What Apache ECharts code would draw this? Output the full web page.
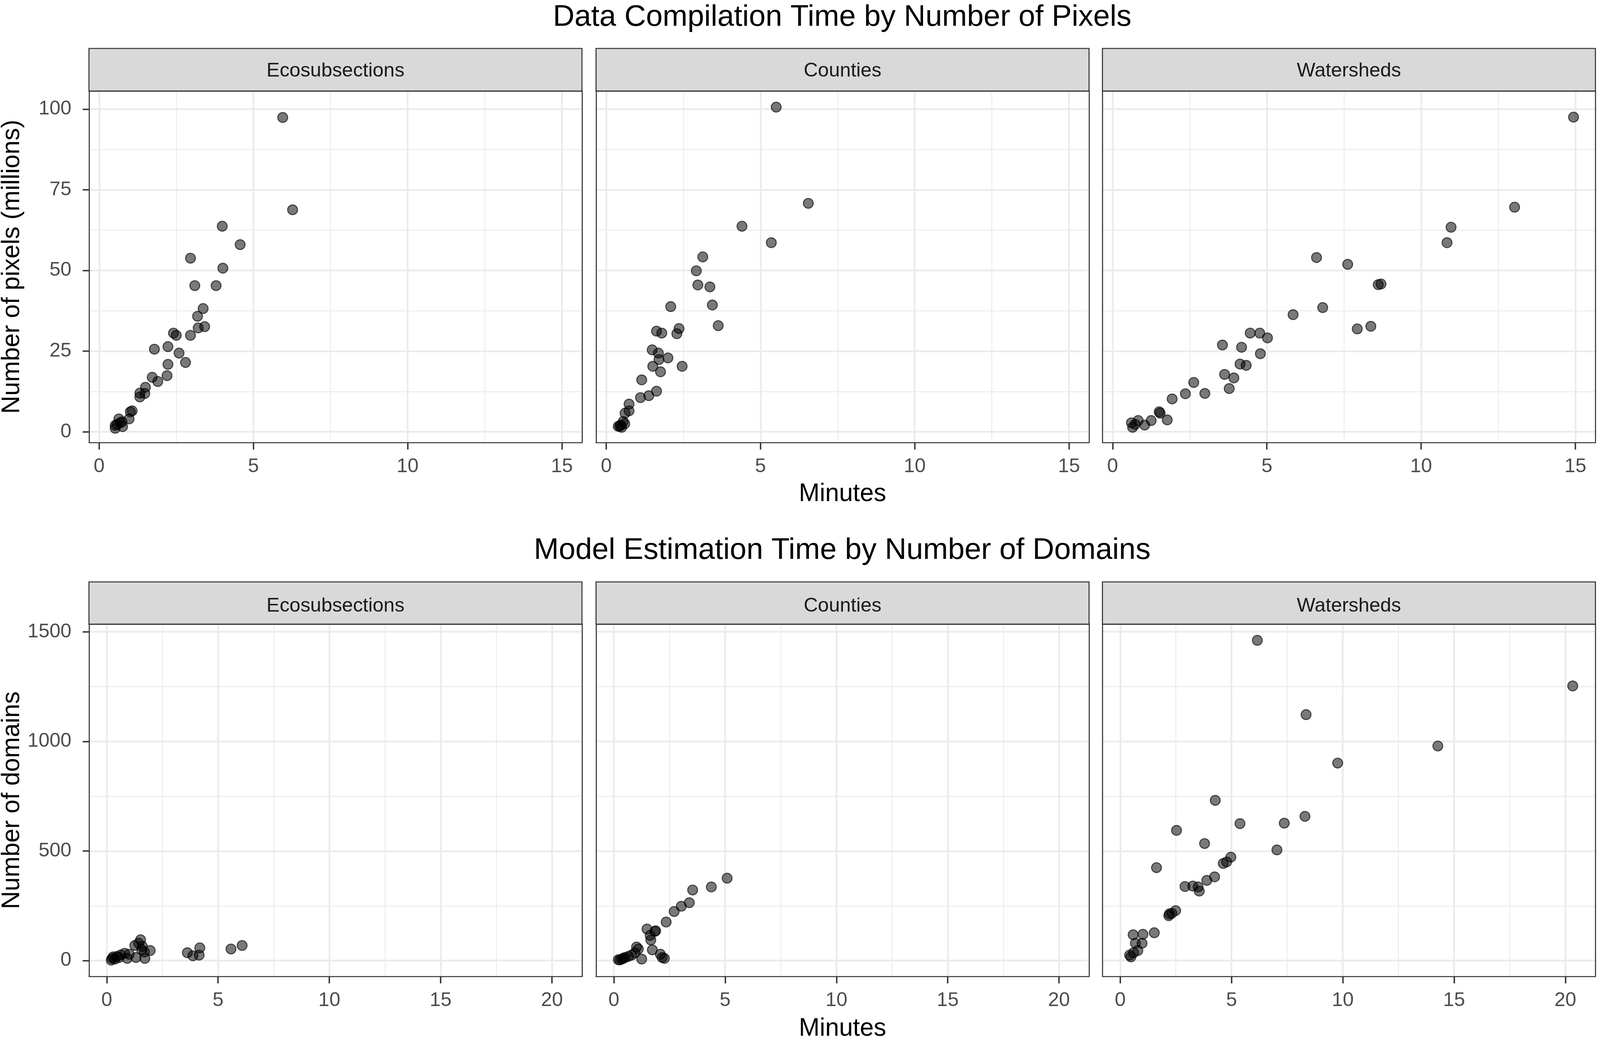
<!DOCTYPE html>
<html>
<head>
<meta charset="utf-8">
<title>Time by Number of Pixels / Domains</title>
<script src="https://cdn.jsdelivr.net/npm/echarts@6/dist/echarts.min.js"></script>
<style>
	html, body { margin: 0; padding: 0; overflow: hidden; background: #ffffff; }
	#main { width: 100vw; height: 100vh; }
</style>
</head>
<body>
<div id="main"></div>
<script>
//面板名称
var facetNames = ['Ecosubsections', 'Counties', 'Watersheds'];

//上排：数据编译时间 (分钟) / 像素数 (百万)
var pixEcoMin = [5.95, 6.27, 3.99, 4.57, 2.96, 4.01, 3.10, 3.79, 3.37, 3.19, 3.21, 3.42, 2.96, 2.41, 2.50, 1.79, 2.23, 2.59, 2.80, 2.23, 2.20, 1.72, 1.90, 1.50, 1.48, 1.32, 1.32, 1.07, 1.01, 0.97, 0.64, 0.74, 0.76, 0.52, 0.52, 0.58, 0.68];
var pixEcoVal = [97.4, 68.8, 63.7, 58.0, 53.8, 50.7, 45.3, 45.3, 38.2, 35.8, 32.2, 32.6, 29.9, 30.6, 29.9, 25.6, 26.4, 24.4, 21.5, 20.9, 17.4, 16.9, 15.6, 13.8, 11.9, 12.0, 10.8, 6.5, 6.2, 4.0, 4.0, 3.1, 1.6, 2.0, 1.1, 2.3, 2.8];
var pixCntMin = [5.51, 6.55, 4.40, 5.35, 3.13, 2.92, 2.97, 3.36, 3.44, 2.09, 3.63, 2.36, 2.29, 1.63, 1.80, 1.49, 1.69, 1.71, 2.00, 1.51, 2.46, 1.76, 1.15, 1.63, 1.38, 1.11, 0.74, 0.74, 0.61, 0.60, 0.44, 0.50, 0.39, 0.55, 0.47];
var pixCntVal = [100.6, 70.8, 63.7, 58.6, 54.2, 49.9, 45.5, 44.9, 39.3, 38.8, 32.9, 32.0, 30.4, 31.2, 30.6, 25.4, 24.4, 22.4, 22.9, 20.3, 20.3, 18.6, 16.1, 12.6, 11.2, 10.6, 8.6, 6.5, 5.8, 2.5, 1.8, 1.4, 1.7, 3.2, 2.1];
var pixWatMin = [14.94, 13.03, 10.97, 10.84, 6.61, 7.62, 8.61, 8.70, 5.85, 6.81, 7.93, 8.37, 4.46, 4.77, 5.02, 3.56, 4.18, 4.79, 4.13, 4.33, 3.63, 3.93, 3.78, 2.63, 2.36, 2.99, 1.93, 1.51, 1.54, 1.77, 1.25, 1.04, 0.83, 0.61, 0.65, 0.73];
var pixWatVal = [97.5, 69.6, 63.4, 58.6, 54.0, 51.9, 45.6, 45.8, 36.3, 38.5, 31.9, 32.7, 30.6, 30.6, 29.1, 26.9, 26.2, 24.2, 21.0, 20.6, 17.8, 16.7, 13.4, 15.3, 11.8, 11.9, 10.2, 6.2, 5.8, 3.7, 3.5, 2.1, 3.5, 2.8, 1.4, 2.3];

//下排：模型估计时间 (分钟) / 域数量
var domEcoMin = [6.08, 5.58, 4.18, 4.15, 3.87, 3.62, 1.52, 1.26, 1.60, 1.43, 1.95, 1.69, 1.71, 1.31, 1.01, 0.92, 0.80, 0.63, 0.46, 0.29, 0.20, 0.24, 0.37, 0.55, 1.57];
var domEcoVal = [69, 53, 58, 25, 22, 36, 95, 69, 65, 79, 46, 39, 10, 14, 29, 10, 33, 26, 19, 17, 2, 10, 7, 14, 50];
var domCntMin = [5.09, 4.38, 3.54, 3.39, 3.03, 2.71, 2.35, 1.49, 1.88, 1.84, 1.63, 1.66, 1.73, 2.09, 2.17, 2.27, 1.02, 1.10, 0.95, 0.80, 1.25, 0.65, 0.42, 0.27, 0.20, 0.35, 0.50];
var domCntVal = [376, 336, 322, 264, 248, 224, 176, 144, 136, 133, 115, 94, 49, 29, 14, 10, 62, 53, 36, 25, 7, 19, 10, 3, 4, 7, 14];
var domWatMin = [6.16, 20.33, 8.35, 14.27, 9.77, 4.27, 5.38, 7.37, 8.30, 2.53, 3.79, 7.04, 4.97, 4.78, 4.63, 1.63, 4.24, 3.89, 2.91, 3.26, 3.50, 3.55, 2.49, 2.32, 2.18, 2.21, 1.53, 1.02, 0.58, 0.98, 0.68, 0.79, 0.60, 0.42, 0.48];
var domWatVal = [1461, 1253, 1122, 979, 901, 731, 625, 627, 658, 594, 534, 505, 472, 450, 443, 424, 382, 366, 338, 340, 336, 317, 228, 216, 205, 213, 127, 120, 118, 79, 79, 46, 36, 25, 17];

//刻度
var pixXTicks = [0, 5, 10, 15];
var pixXMinor = [2.5, 7.5, 12.5];
var pixYTicks = [0, 25, 50, 75, 100];
var pixYMinor = [12.5, 37.5, 62.5, 87.5];
var domXTicks = [0, 5, 10, 15, 20];
var domXMinor = [2.5, 7.5, 12.5, 17.5];
var domYTicks = [0, 500, 1000, 1500];
var domYMinor = [250, 750, 1250];

//布局 (按 4550x2668 设计，再按窗口缩放)
var W = window.innerWidth, H = window.innerHeight;
var sx = W / 4550, sy = H / 2668, sf = Math.min(sx, sy);
function X(v) { return v * sx; }
function Y(v) { return v * sy; }
function F(v) { return v * sf; }

var panelLeft = [253, 1695, 3135];
var panelWidth = 1402;
var rowTop = [233, 1598];
var rowHeight = [900, 902];
var stripTop = [124, 1490];
var FONT = 'Liberation Sans, Arial, Helvetica, sans-serif';

var rows = [{
	title: 'Data Compilation Time by Number of Pixels',
	titleTop: 6,
	yName: 'Number of pixels (millions)',
	xRange: [-0.33, 15.65],
	yRange: [-3.3, 105.6],
	xTicks: pixXTicks, xMinor: pixXMinor,
	yTicks: pixYTicks, yMinor: pixYMinor,
	xs: [pixEcoMin, pixCntMin, pixWatMin],
	ys: [pixEcoVal, pixCntVal, pixWatVal]
}, {
	title: 'Model Estimation Time by Number of Domains',
	titleTop: 1371,
	yName: 'Number of domains',
	xRange: [-0.8, 21.35],
	yRange: [-72, 1535],
	xTicks: domXTicks, xMinor: domXMinor,
	yTicks: domYTicks, yMinor: domYMinor,
	xs: [domEcoMin, domCntMin, domWatMin],
	ys: [domEcoVal, domCntVal, domWatVal]
}];

var grids = [], xAxes = [], yAxes = [], series = [], graphics = [], titles = [];

function plainLabel(v) {
	return String(v);
}

for (var r = 0; r < rows.length; r++) {
	var row = rows[r];
	titles.push({
		text: row.title,
		left: X(2395),
		top: Y(row.titleTop),
		textAlign: 'center',
		padding: 0,
		textStyle: { fontFamily: FONT, fontSize: F(85), fontWeight: 'normal', color: '#000000' }
	});
	for (var c = 0; c < 3; c++) {
		var g = grids.length;
		grids.push({
			left: X(panelLeft[c]),
			top: Y(rowTop[r]),
			width: X(panelWidth),
			height: Y(rowHeight[r]),
			outerBoundsMode: 'none',
			containLabel: false
		});
		//主x轴 (下)
		xAxes.push({
			type: 'value',
			gridIndex: g,
			position: 'bottom',
			min: row.xRange[0],
			max: row.xRange[1],
			name: c === 1 ? 'Minutes' : '',
			nameLocation: 'middle',
			nameGap: Y(r === 0 ? 100 : 102),
			nameTextStyle: { fontFamily: FONT, fontSize: F(71), color: '#000000' },
			axisLine: { show: true, onZero: false, lineStyle: { color: '#333333', width: F(3) } },
			axisTick: { show: true, length: Y(18), customValues: row.xTicks, lineStyle: { color: '#333333', width: F(4) } },
			axisLabel: { show: true, margin: Y(37), customValues: row.xTicks, formatter: plainLabel, fontFamily: FONT, fontSize: F(56), color: '#4D4D4D' },
			splitLine: { show: true, lineStyle: { color: '#EBEBEB', width: F(5) } }
		});
		//次x轴 (上) ：次网格线 + 上边框
		xAxes.push({
			type: 'value',
			gridIndex: g,
			position: 'top',
			min: row.xRange[0],
			max: row.xRange[1],
			axisLine: { show: true, onZero: false, lineStyle: { color: '#333333', width: F(3) } },
			axisTick: { show: false, customValues: row.xMinor },
			axisLabel: { show: false, customValues: row.xMinor },
			splitLine: { show: true, lineStyle: { color: '#EBEBEB', width: F(2.5) } }
		});
		//主y轴 (左)
		yAxes.push({
			type: 'value',
			gridIndex: g,
			position: 'left',
			min: row.yRange[0],
			max: row.yRange[1],
			name: c === 0 ? row.yName : '',
			nameLocation: 'middle',
			nameGap: X(183),
			nameTextStyle: { fontFamily: FONT, fontSize: F(71), color: '#000000' },
			axisLine: { show: true, onZero: false, lineStyle: { color: '#333333', width: F(3) } },
			axisTick: { show: c === 0, length: X(18), customValues: row.yTicks, lineStyle: { color: '#333333', width: F(4) } },
			axisLabel: { show: c === 0, margin: X(50), customValues: row.yTicks, formatter: plainLabel, fontFamily: FONT, fontSize: F(56), color: '#4D4D4D' },
			splitLine: { show: true, lineStyle: { color: '#EBEBEB', width: F(5) } }
		});
		//次y轴 (右) ：次网格线 + 右边框
		yAxes.push({
			type: 'value',
			gridIndex: g,
			position: 'right',
			min: row.yRange[0],
			max: row.yRange[1],
			axisLine: { show: true, onZero: false, lineStyle: { color: '#333333', width: F(3) } },
			axisTick: { show: false, customValues: row.yMinor },
			axisLabel: { show: false, customValues: row.yMinor },
			splitLine: { show: true, lineStyle: { color: '#EBEBEB', width: F(2.5) } }
		});
		//散点
		var pts = [];
		for (var i = 0; i < row.xs[c].length; i++) {
			pts.push([row.xs[c][i], row.ys[c][i]]);
		}
		series.push({
			name: facetNames[c],
			type: 'scatter',
			xAxisIndex: 2 * g,
			yAxisIndex: 2 * g,
			symbol: 'circle',
			symbolSize: F(28),
			data: pts,
			itemStyle: {
				color: 'rgba(0,0,0,0.66)',
				borderColor: 'rgba(0,0,0,0.8)',
				borderWidth: F(3)
			},
			emphasis: { disabled: true }
		});
		//分面标签
		graphics.push({
			type: 'rect',
			shape: { x: X(panelLeft[c]), y: Y(stripTop[r]), width: X(panelWidth), height: Y(rowTop[r] - stripTop[r]) },
			style: { fill: '#D9D9D9', stroke: '#333333', lineWidth: F(3) },
			z: 10
		});
		graphics.push({
			type: 'text',
			x: X(panelLeft[c] + panelWidth / 2),
			y: Y((stripTop[r] + rowTop[r]) / 2 + (r === 0 ? 4 : 8)),
			style: {
				text: facetNames[c],
				fontFamily: FONT,
				fontSize: F(56),
				fill: '#1A1A1A',
				align: 'center',
				verticalAlign: 'middle'
			},
			z: 11
		});
	}
}

var myChart = echarts.init(document.getElementById('main'), null, { renderer: 'canvas' });
myChart.setOption({
	backgroundColor: '#ffffff',
	animation: false,
	title: titles,
	grid: grids,
	xAxis: xAxes,
	yAxis: yAxes,
	series: series,
	graphic: { elements: graphics }
});
</script>
</body>
</html>
